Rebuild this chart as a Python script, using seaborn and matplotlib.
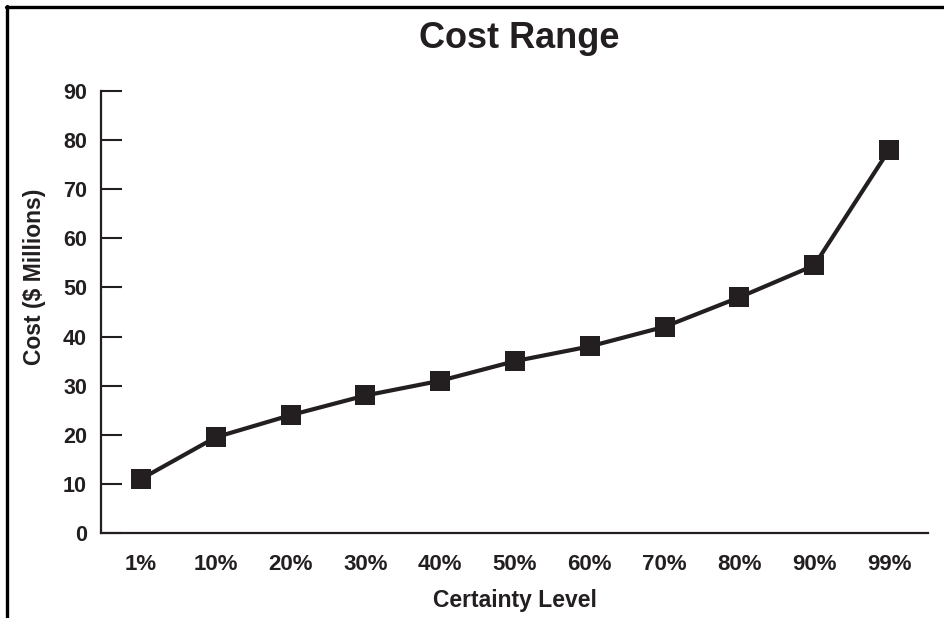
import matplotlib
matplotlib.use("Agg")
import matplotlib.pyplot as plt
from matplotlib.lines import Line2D
import seaborn as sns
import pandas as pd

certainty = ["1%", "10%", "20%", "30%", "40%", "50%", "60%", "70%", "80%", "90%", "99%"]
cost = [11, 19.5, 24, 28, 31, 35, 38, 42, 48, 54.5, 78]
y_ticks = [0, 10, 20, 30, 40, 50, 60, 70, 80, 90]

ink = "#231f20"

sns.set_theme(style="white")
plt.rcParams["font.family"] = ["Liberation Sans", "DejaVu Sans"]
plt.rcParams["font.weight"] = "bold"

df = pd.DataFrame({"Certainty Level": certainty, "Cost": cost})

fig = plt.figure(figsize=(9.45, 6.18), dpi=100)
ax = fig.add_axes([101 / 945, 1 - 533 / 618, (928 - 101) / 945, (533 - 91) / 618])

sns.lineplot(data=df, x="Certainty Level", y="Cost", ax=ax, color=ink,
             linewidth=3, marker="s", markersize=14, markeredgewidth=0,
             markerfacecolor=ink, sort=False)

ax.set_xlim(-0.535, 10.52)
ax.set_ylim(0, 90)
ax.set_yticks(y_ticks)
ax.set_yticklabels([str(v) for v in y_ticks], fontsize=15.5, fontweight="bold", color=ink)
ax.set_xticks(range(len(certainty)))
ax.set_xticklabels(certainty, fontsize=16, fontweight="bold", color=ink)

ax.tick_params(axis="y", direction="in", length=15, width=1.5, color=ink, pad=10, left=True)
ax.tick_params(axis="x", length=0, pad=15)

for side in ["top", "right"]:
    ax.spines[side].set_visible(False)
for side in ["left", "bottom"]:
    ax.spines[side].set_color(ink)
    ax.spines[side].set_linewidth(1.6)

ax.set_xlabel("Certainty Level", fontsize=16.5, fontweight="bold", color=ink, labelpad=10)
ax.set_ylabel("Cost ($ Millions)", fontsize=16.5, fontweight="bold", color=ink)
ax.yaxis.set_label_coords(-0.08, 0.58)
ax.yaxis.label.set_va("center")

fig.text(519 / 945, 1 - 39 / 618, "Cost Range", ha="center", va="center",
         fontsize=26, fontweight="bold", color=ink)

# frame lines along the top and left edges of the figure
fig.add_artist(Line2D([6 / 945, 1], [1 - 7 / 618, 1 - 7 / 618], color="black",
                      linewidth=2.4, transform=fig.transFigure))
fig.add_artist(Line2D([7 / 945, 7 / 945], [0, 1 - 6 / 618], color="black",
                      linewidth=2.4, transform=fig.transFigure))

fig.savefig("out.png", dpi=100, facecolor="white")
